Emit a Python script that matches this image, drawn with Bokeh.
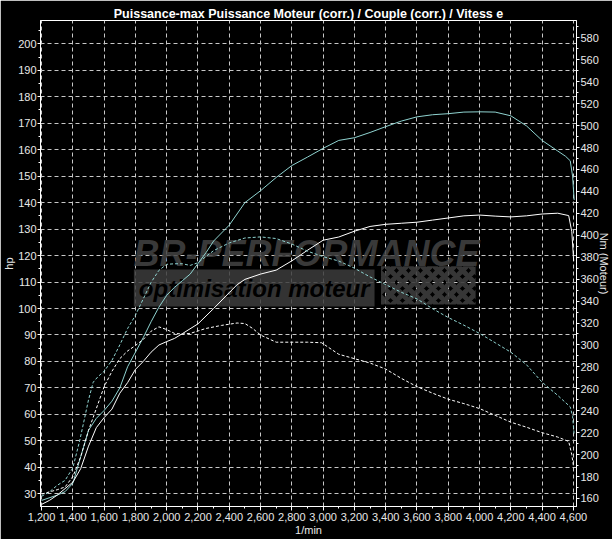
from bokeh.plotting import figure
from bokeh.models import (Range1d, LinearAxis, SingleIntervalTicker,
                          NumeralTickFormatter, Label, BoxAnnotation)
from bokeh.embed import file_html
from bokeh.resources import INLINE

TITLE = "Puissance-max Puissance Moteur (corr.) / Couple (corr.) / Vitess e"
X_LABEL = "1/min"
Y_LABEL = "hp"
Y2_LABEL = "Nm (Moteur)"

# Power run 2 (cyan, solid, hp)
rpm_p2 = [1200, 1300, 1350, 1400, 1450, 1500, 1550, 1600, 1650, 1700, 1750, 1800,
          1850, 1900, 1950, 2000, 2050, 2100, 2150, 2200, 2250, 2300, 2400, 2500,
          2600, 2700, 2800, 2900, 3000, 3100, 3200, 3300, 3400, 3500, 3600, 3700,
          3800, 3900, 4000, 4100, 4200, 4300, 4400, 4500, 4550, 4580, 4595, 4605]
hp_p2 = [27.5, 29.5, 30.8, 34, 44, 54, 58.5, 61.5, 65, 70, 78, 83.5,
         89, 95, 100.5, 105, 108, 110.5, 113, 117, 121, 125.5, 131.5, 140,
         144.5, 149.5, 154, 157.2, 160.5, 163.5, 164.5, 166.5, 168.7, 170.8, 172.4, 173.2,
         173.6, 174.2, 174.3, 174.2, 172.8, 169, 163.5, 159.5, 157.5, 155.8, 150, 141]

# Power run 1 (white, solid, hp)
rpm_p1 = [1200, 1250, 1300, 1400, 1450, 1500, 1550, 1600, 1650, 1700, 1750, 1800,
          1850, 1900, 1950, 2000, 2050, 2100, 2200, 2300, 2400, 2450, 2500, 2600,
          2700, 2800, 2900, 3000, 3100, 3200, 3300, 3400, 3500, 3600, 3700, 3800,
          3900, 4000, 4100, 4200, 4300, 4400, 4500, 4570, 4590, 4602]
hp_p1 = [26, 27.5, 29.5, 34.4, 39.5, 48, 55, 58.8, 62, 68, 72, 77,
         80, 83.5, 86.2, 87.5, 88.7, 90.5, 94.2, 100, 106, 109, 111, 113,
         114.5, 118, 122, 125.8, 127, 129.2, 131, 131.8, 132.2, 132.6, 133.4, 134.2,
         135, 135.3, 134.9, 134.6, 135, 135.7, 136, 135.1, 129, 118]

# Torque run 2 (cyan, dashed, Nm)
rpm_t2 = [1200, 1250, 1300, 1350, 1400, 1444, 1476, 1500, 1530, 1560, 1600, 1650,
          1700, 1750, 1800, 1850, 1900, 1950, 2000, 2050, 2100, 2150, 2200, 2250,
          2300, 2400, 2500, 2600, 2700, 2800, 2900, 3000, 3100, 3200, 3300, 3400,
          3500, 3600, 3700, 3800, 3900, 4000, 4100, 4200, 4300, 4400, 4500, 4580,
          4595, 4605]
nm_t2 = [162, 166, 172, 176.5, 188, 213, 234, 250, 266, 271, 276, 286,
         300, 315, 327, 342, 357, 368, 373.5, 374, 374, 372.5, 375, 380.5,
         386, 393, 397.5, 398.5, 397, 392, 385.5, 380.5, 376.5, 370, 362, 355,
         348, 342, 333, 325, 318, 310.5, 302, 293.4, 282, 266, 254, 243.5,
         235, 218]

# Torque run 1 (white, dashed, Nm)
rpm_t1 = [1200, 1300, 1350, 1400, 1450, 1500, 1550, 1600, 1650, 1700, 1750, 1800,
          1850, 1900, 1950, 2000, 2050, 2100, 2150, 2250, 2350, 2450, 2500, 2550,
          2600, 2700, 2800, 2900, 2990, 3100, 3200, 3300, 3400, 3500, 3600, 3700,
          3800, 3900, 4000, 4100, 4200, 4300, 4400, 4500, 4570, 4590, 4602]
nm_t1 = [164, 168, 170.5, 180, 198, 222, 242, 262, 276, 287.5, 294.5, 299.5,
         305, 312.5, 316.5, 314, 310.5, 310, 310.5, 315, 317.8, 320, 319.5, 315,
         309, 302.5, 302.5, 302.5, 302, 291.5, 287.5, 283.5, 278, 269.5, 262, 256,
         250.5, 246.5, 242, 235.8, 229.6, 225, 220, 216, 212, 200, 188]

CYAN = "#8fd3d0"
FONT = "Liberation Sans"
TXT = "#e8e8e8"

p = figure(width=612, height=539,
           x_range=Range1d(1193, 4620), y_range=Range1d(25.2, 208.8),
           output_backend="svg", toolbar_location=None,
           background_fill_color="black", border_fill_color="black",
           min_border_left=39, min_border_right=36, min_border_top=20,
           min_border_bottom=33, title=TITLE)
p.extra_y_ranges = {"nm": Range1d(152.7, 595.8)}

p.title.align = "center"
p.title.text_color = "white"
p.title.text_font = FONT
p.title.text_font_size = "12.5px"
p.title.text_font_style = "bold"
p.title.standoff = 0
p.title.offset = 0

p.outline_line_color = "white"
p.outline_line_width = 1

right = LinearAxis(y_range_name="nm",
                   ticker=SingleIntervalTicker(interval=20, num_minor_ticks=2),
                   axis_label=Y2_LABEL)
p.add_layout(right, "right")

p.xaxis.ticker = SingleIntervalTicker(interval=200, num_minor_ticks=2)
p.xaxis.formatter = NumeralTickFormatter(format="0,0")
p.xaxis.axis_label = X_LABEL
p.yaxis[0].ticker = SingleIntervalTicker(interval=10, num_minor_ticks=2)
p.yaxis[0].axis_label = Y_LABEL

for ax in p.axis:
    ax.axis_line_color = "white"
    ax.major_tick_line_color = "white"
    ax.minor_tick_line_color = "white"
    ax.major_tick_in = 0
    ax.major_tick_out = 4
    ax.minor_tick_in = 0
    ax.minor_tick_out = 2
    ax.major_label_text_color = TXT
    ax.major_label_text_font = FONT
    ax.major_label_text_font_size = "11px"
    ax.major_label_standoff = 2
    ax.axis_label_text_color = TXT
    ax.axis_label_text_font = FONT
    ax.axis_label_text_font_size = "11px"
    ax.axis_label_text_font_style = "normal"
    ax.axis_label_standoff = 0

p.yaxis[0].major_tick_out = 3
p.yaxis[0].major_label_standoff = 1
p.yaxis[0].axis_label_standoff = 0
right.major_tick_out = 3
right.major_label_standoff = 1
right.axis_label_standoff = -4

p.xgrid.ticker = SingleIntervalTicker(interval=200)
p.ygrid.ticker = SingleIntervalTicker(interval=10)
for g in (p.xgrid, p.ygrid):
    g.grid_line_color = "#c8c8c8"
    g.grid_line_dash = "4 3"
    g.grid_line_width = 1

# watermark
wm1 = Label(x=1787, y=120.8, text="BR-PERFORMANCE", text_font="Liberation Sans",
            text_font_style="bold italic", text_font_size="36px",
            text_color="#444444", text_alpha=0.85, text_baseline="middle",
            level="underlay")
wm2 = Label(x=1790, y=107.7, text="optimisation moteur", text_font="Liberation Sans",
            text_font_style="bold italic", text_font_size="24px",
            text_color="#000000", text_baseline="middle",
            background_fill_color="#3c3c3c", background_fill_alpha=0.85,
            padding=5, level="underlay")
flag = BoxAnnotation(left=3370, right=3975, bottom=101.5, top=116, level="underlay",
                     fill_alpha=0, line_alpha=0,
                     hatch_pattern="diagonal_cross", hatch_color="#3c3c3c",
                     hatch_weight=5, hatch_scale=12, hatch_alpha=0.9)
p.add_layout(flag)
p.add_layout(wm1)
p.add_layout(wm2)

p.line(rpm_p2, hp_p2, line_color=CYAN, line_width=1)
p.line(rpm_p1, hp_p1, line_color="white", line_width=1)
p.line(rpm_t2, nm_t2, line_color=CYAN, line_width=1, line_dash="3 2", y_range_name="nm")
p.line(rpm_t1, nm_t1, line_color="white", line_width=1, line_dash="3 2", y_range_name="nm")

open("out.html", "w").write(file_html(p, INLINE))
